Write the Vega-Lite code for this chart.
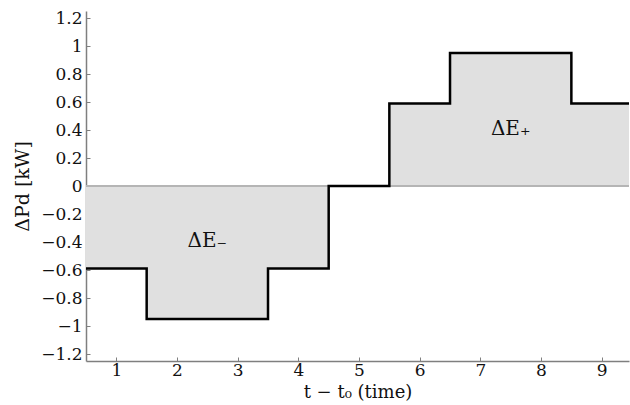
{
  "$schema": "https://vega.github.io/schema/vega-lite/v6.json",
  "width": 543,
  "height": 350,
  "autosize": {"type": "none"},
  "padding": {"left": 86, "top": 11, "right": 1, "bottom": 44},
  "background": "white",
  "config": {
    "view": {"stroke": null},
    "font": "DejaVu Serif",
    "axis": {
      "domainColor": "#7f7f7f",
      "domainWidth": 1.5,
      "tickColor": "#7f7f7f",
      "tickSize": -4,
      "tickWidth": 1,
      "grid": false,
      "labelFont": "DejaVu Serif",
      "labelFontSize": 17,
      "labelColor": "#111111",
      "labelOverlap": false,
      "titleFont": "DejaVu Serif",
      "titleFontSize": 19,
      "titleFontWeight": "normal",
      "titleColor": "#111111",
      "labelFlush": false
    }
  },
  "data": {
    "values": [
      {"t": 0.5, "p": -0.59},
      {"t": 1.5, "p": -0.95},
      {"t": 2.5, "p": -0.95},
      {"t": 3.5, "p": -0.59},
      {"t": 4.5, "p": 0},
      {"t": 5.5, "p": 0.59},
      {"t": 6.5, "p": 0.95},
      {"t": 7.5, "p": 0.95},
      {"t": 8.5, "p": 0.59},
      {"t": 9.5, "p": 0.59}
    ]
  },
  "encoding": {
    "x": {
      "field": "t", "type": "quantitative",
      "scale": {"domain": [0.5, 9.45], "nice": false, "zero": false},
      "axis": {"values": [1,2,3,4,5,6,7,8,9], "labelExpr": "format(datum.value, '~g')", "title": "t − t₀ (time)", "labelPadding": 5, "titlePadding": 5, "titleFontSize": 18}
    },
    "y": {
      "field": "p", "type": "quantitative",
      "scale": {"domain": [-1.25, 1.25], "nice": false},
      "axis": {"values": [-1.2,-1,-0.8,-0.6,-0.4,-0.2,0,0.2,0.4,0.6,0.8,1,1.2], "labelOverlap": false, "labelExpr": "replace(format(datum.value, '~g'), '-', '−')", "title": "ΔPd [kW]", "labelPadding": 8, "titlePadding": 8}
    }
  },
  "layer": [
    {
      "mark": {"type": "area", "interpolate": "step-after", "color": "#e0e0e0", "clip": true},
      "encoding": {
        "y2": {"datum": 0}
      }
    },
    {
      "mark": {"type": "rule", "color": "#b5b5b5", "strokeWidth": 2},
      "encoding": {"x": null, "y": {"datum": 0}}
    },
    {
      "mark": {"type": "line", "interpolate": "step-after", "color": "#000000", "strokeWidth": 2.5, "clip": true}
    },
    {
      "data": {"values": [{"t": 2.5, "p": -0.39, "label": "ΔE₋"}, {"t": 7.5, "p": 0.41, "label": "ΔE₊"}]},
      "mark": {"type": "text", "fontSize": 20, "font": "DejaVu Serif", "color": "#111111"},
      "encoding": {
        "text": {"field": "label"}
      }
    }
  ]
}
